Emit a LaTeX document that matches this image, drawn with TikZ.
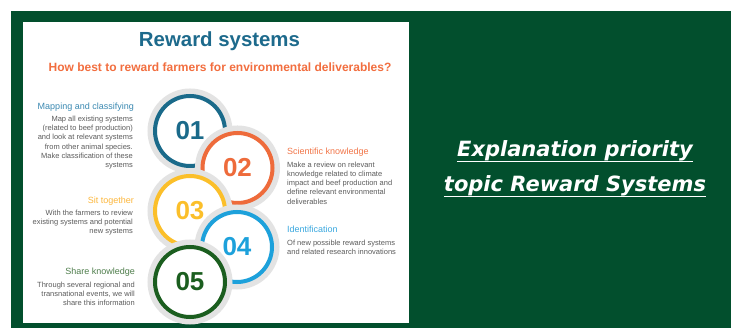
\documentclass[tikz,border=0pt]{standalone}
\usepackage{fontspec}
\setmainfont{Liberation Sans}
\newfontfamily\sidefont{DejaVu Sans}

\definecolor{boardgreen}{HTML}{024F2D}
\definecolor{titleblue}{HTML}{1D6A8C}
\definecolor{subtitleorange}{HTML}{F26E3F}
\definecolor{bodygray}{HTML}{5C5C5C}
\definecolor{halogray}{HTML}{E3E3E3}
\definecolor{ringA}{HTML}{1A6A8A}
\definecolor{ringB}{HTML}{EE6B3B}
\definecolor{ringC}{HTML}{FBBF2A}
\definecolor{ringD}{HTML}{1DA1DB}
\definecolor{ringE}{HTML}{1B5E1F}
\definecolor{headA}{HTML}{3C8AB2}
\definecolor{headB}{HTML}{F27649}
\definecolor{headC}{HTML}{FDB73C}
\definecolor{headD}{HTML}{3AA8DF}
\definecolor{headE}{HTML}{4F7E4C}

\begin{document}
\begin{tikzpicture}[x=1pt,y=-1pt,
  numcircle/.style={circle, inner sep=0pt, minimum size=70pt,
    fill=white, draw=#1, line width=4pt, text=#1,
    font=\fontsize{26}{26}\selectfont\bfseries,
    preaction={draw=halogray, line width=15pt}},
  headleft/.style={anchor=base east, inner sep=0pt, text=#1,
    font=\fontsize{9}{11}\selectfont},
  headright/.style={anchor=base west, inner sep=0pt, text=#1,
    font=\fontsize{9}{11}\selectfont},
  % multi-line blocks are placed by the baseline of their last line
  bodyleft/.style={anchor=base east, inner sep=0pt, align=right,
    text=bodygray, font=\fontsize{7.5}{9.2}\selectfont},
  bodyright/.style={anchor=base west, inner sep=0pt, align=left,
    text=bodygray, font=\fontsize{7.5}{9.2}\selectfont},
  sideline/.style={anchor=base, inner sep=0pt, text=white,
    font=\sidefont\fontsize{21}{24}\selectfont\bfseries\itshape},
  underrule/.style={draw=white, line width=1.4pt}]

\useasboundingbox (0,0) rectangle (731,328);
\fill[white] (0,0) rectangle (731,328);
% green board and the white card on it
\fill[boardgreen] (11,11) rectangle (731,328);
\fill[white] (23,22) rectangle (409,323);

% headings of the card
\node[anchor=base, inner sep=0pt, text=titleblue,
  font=\fontsize{20.4}{22}\selectfont\bfseries] (title) at (219.5,46.5) {Reward systems};
\node[anchor=base, inner sep=0pt, text=subtitleorange,
  font=\fontsize{12}{14}\selectfont\bfseries] (subtitle) at (220,72) {How best to reward farmers for environmental deliverables?};

% numbered rings, each one laid over the previous one
\node[numcircle=ringA] (c1) at (190,131) {01};
\node[numcircle=ringB] (c2) at (237.5,168) {02};
\node[numcircle=ringC] (c3) at (190,211) {03};
\node[numcircle=ringD] (c4) at (237,247) {04};
\node[numcircle=ringE] (c5) at (190,282) {05};

% left column
\node[headleft=headA] (h1) at (134,110) {Mapping and classifying};
\node[bodyleft] (b1) at (133,167.5) {Map all existing systems\\(related to beef production)\\and look at relevant systems\\from other animal species.\\Make classification of these\\systems};
\node[headleft=headC] (h3) at (134,203.3) {Sit together};
\node[bodyleft] (b3) at (133,233.5) {With the farmers to review\\existing systems and potential\\new systems};
\node[headleft=headE] (h5) at (135,275) {Share knowledge};
\node[bodyleft] (b5) at (135,305.6) {Through several regional and\\transnational events, we will\\share this information};

% right column
\node[headright=headB] (h2) at (287,155) {Scientific knowledge};
\node[bodyright] (b2) at (287,204.1) {Make a review on relevant\\knowledge related to climate\\impact and beef production and\\define relevant environmental\\deliverables};
\node[headright=headD] (h4) at (287,232.7) {Identification};
\node[bodyright] (b4) at (287,254.5) {Of new possible reward systems\\and related research innovations};

% caption on the green board, underlined
\node[sideline] (side1) at (575,157) {Explanation priority\ };
\node[sideline] (side2) at (575,192) {topic Reward Systems};
\draw[underrule] ([yshift=-4.5pt]side1.base west) -- ([yshift=-4.5pt]side1.base east);
\draw[underrule] ([yshift=-4.5pt]side2.base west) -- ([yshift=-4.5pt]side2.base east);
\end{tikzpicture}
\end{document}
